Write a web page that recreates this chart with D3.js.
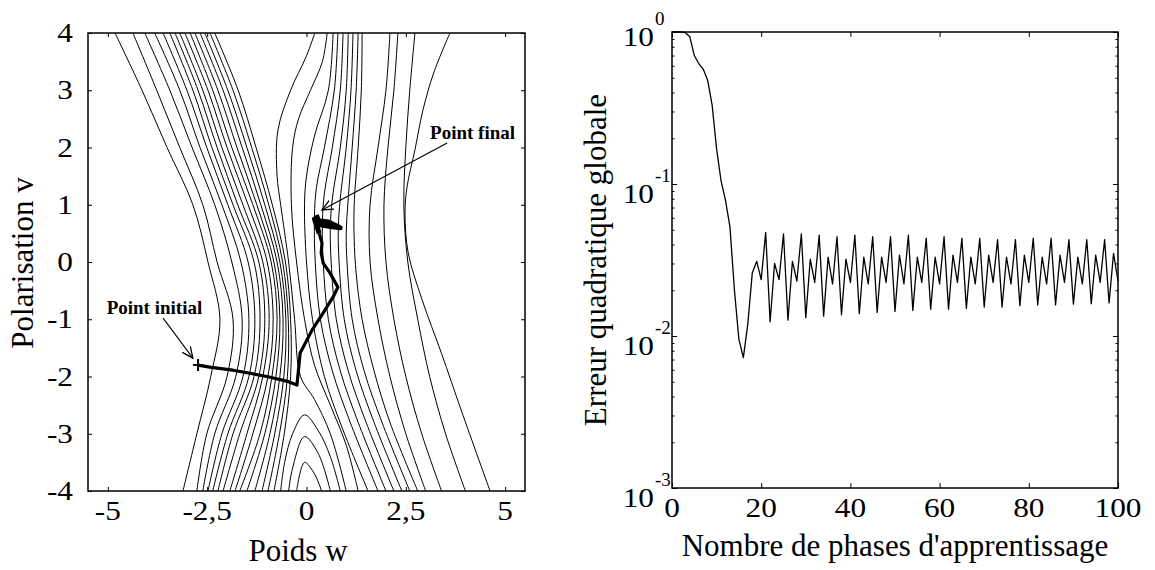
<!DOCTYPE html>
<html><head><meta charset="utf-8">
<script src="https://cdn.jsdelivr.net/npm/d3@7/dist/d3.min.js"></script>
<style>
html,body{margin:0;padding:0;background:#fff;}
svg text{font-family:"Liberation Serif","Times New Roman",Times,serif;fill:#000;}
</style></head><body>
<svg id="chart" width="1155" height="570"></svg>
<script>
// ---------------- LEFT PANEL DATA (error surface, w / v) ----------------
const wTicks = [-5, -2.5, 0, 2.5, 5];
const wTickLabels = ["-5", "-2,5", "0", "2,5", "5"];
const vTicks = [-4, -3, -2, -1, 0, 1, 2, 3, 4];
const vTickLabels = ["-4", "-3", "-2", "-1", "0", "1", "2", "3", "4"];

// iso-error lines, each as [w, v] points
const contourLines = [
  [[-4.82,4],[-4.14,3],[-3.51,2],[-2.86,1],[-2.48,0],[-2.18,-1],[-2.41,-2],[-2.76,-3],[-3.11,-4]],
  [[-4.37,4],[-3.77,3],[-3.19,2],[-2.61,1],[-2.25,0],[-1.85,-1],[-2.00,-2],[-2.51,-3],[-2.76,-4]],
  [[-4.07,4],[-3.44,3],[-2.88,2],[-2.31,1],[-1.88,0],[-1.62,-1],[-1.78,-2],[-2.31,-3],[-2.61,-4]],
  [[-3.82,4],[-3.19,3],[-2.68,2],[-2.13,1],[-1.65,0],[-1.45,-1],[-1.60,-2],[-2.13,-3],[-2.48,-4]],
  [[-3.61,4],[-3.01,3],[-2.51,2],[-1.98,1],[-1.47,0],[-1.30,-1],[-1.45,-2],[-1.98,-3],[-2.36,-4]],
  [[-3.44,4],[-2.86,3],[-2.38,2],[-1.85,1],[-1.32,0],[-1.17,-1],[-1.32,-2],[-1.85,-3],[-2.23,-4]],
  [[-3.31,4],[-2.73,3],[-2.25,2],[-1.73,1],[-1.20,0],[-1.05,-1],[-1.20,-2],[-1.68,-3],[-2.10,-4]],
  [[-3.19,4],[-2.61,3],[-2.13,2],[-1.60,1],[-1.10,0],[-0.94,-1],[-1.10,-2],[-1.50,-3],[-1.93,-4]],
  [[-3.06,4],[-2.48,3],[-2.00,2],[-1.47,1],[-0.99,0],[-0.84,-1],[-0.97,-2],[-1.35,-3],[-1.80,-4]],
  [[-2.93,4],[-2.36,3],[-1.88,2],[-1.35,1],[-0.89,0],[-0.74,-1],[-0.87,-2],[-1.17,-3],[-1.68,-4]],
  [[-2.81,4],[-2.23,3],[-1.75,2],[-1.25,1],[-0.82,0],[-0.67,-1],[-0.77,-2],[-1.05,-3],[-1.50,-4]],
  [[-2.68,4],[-2.10,3],[-1.62,2],[-1.15,1],[-0.74,0],[-0.59,-1],[-0.67,-2],[-0.92,-3],[-1.30,-4]],
  [[-2.56,4],[-1.98,3],[-1.50,2],[-1.05,1],[-0.67,0],[-0.52,-1],[-0.57,-2],[-0.80,-3],[-1.12,-4]],
  [[-2.43,4],[-1.85,3],[-1.38,2],[-0.95,1],[-0.60,0],[-0.46,-1],[-0.48,-2],[-0.68,-3],[-0.97,-4]],
  [[-2.31,4],[-1.72,3],[-1.27,2],[-0.86,1],[-0.53,0],[-0.40,-1],[-0.40,-2],[-0.56,-3],[-0.82,-4]],
  [[-0.65,-4],[-0.55,-3.5],[-0.35,-3.0],[-0.05,-2.67],[0.3,-2.95],[0.6,-3.4],[0.85,-4]],
  [[-0.45,-4],[-0.35,-3.6],[-0.05,-3.05],[0.3,-3.35],[0.6,-4]],
  [[-0.25,-4],[-0.05,-3.5],[0.2,-3.7],[0.38,-4]],
  [[0.21,4],[0.0,3.6],[-0.4,3.0],[-0.72,2.3],[-0.74,1.5],[-0.65,1],[-0.45,0],[-0.3,-1],[-0.15,-2],[0.2,-2.4],[0.6,-3.0],[1.0,-4]],
  [[0.52,4],[0.4,3.5],[0.1,3.0],[-0.2,2.5],[-0.35,2],[-0.38,1],[-0.25,0],[-0.05,-1],[0.2,-1.8],[0.6,-2.5],[1.0,-3.2],[1.3,-4]],
  [[0.67,4],[0.55,3],[0.2,2.2],[0.0,1.5],[-0.05,1],[0.0,0],[0.15,-1],[0.45,-2],[0.9,-2.9],[1.55,-4]],
  [[0.79,4],[0.7,3],[0.45,2],[0.25,1.3],[0.2,0.8],[0.22,0],[0.35,-1],[0.65,-1.9],[1.1,-2.8],[1.8,-4]],
  [[0.92,4],[0.85,3],[0.65,2],[0.45,1.2],[0.4,0.7],[0.42,0],[0.55,-1],[0.85,-1.9],[1.3,-2.8],[2.0,-4]],
  [[1.05,4],[1.0,3],[0.85,2],[0.65,1.1],[0.6,0.6],[0.62,0],[0.75,-1],[1.05,-1.9],[1.5,-2.8],[2.2,-4]],
  [[1.17,4],[1.12,3],[1.0,2],[0.85,1.1],[0.8,0.6],[0.82,0],[0.95,-1],[1.25,-1.9],[1.7,-2.8],[2.4,-4]],
  [[1.30,4],[1.25,3],[1.15,2],[1.05,1.1],[1.0,0.5],[1.02,0],[1.15,-1],[1.45,-1.9],[1.9,-2.8],[2.6,-4]],
  [[1.40,4],[1.38,3],[1.3,2],[1.2,1],[1.2,0.4],[1.25,-0.2],[1.4,-1],[1.7,-1.9],[2.1,-2.8],[2.8,-4]],
  [[2.10,4],[2.0,3],[1.8,2],[1.6,1],[1.6,0],[1.8,-1],[2.1,-2],[2.5,-3],[3.0,-4]],
  [[2.30,4],[2.2,3],[2.05,2],[1.95,1],[2.0,0],[2.2,-1],[2.5,-2],[2.9,-3],[3.4,-4]],
  [[2.73,4],[2.6,3],[2.5,2],[2.45,1],[2.55,0],[2.8,-1],[3.1,-2],[3.5,-3],[4.0,-4]],
  [[3.61,4],[3.2,3.3],[2.93,2.65],[2.73,1.96],[2.53,1.31],[2.48,0.85],[2.56,0.16],[2.91,-0.66],[3.4,-1.6],[3.9,-2.6],[4.62,-4]]
];

// gradient-descent trajectory
const descentW = [-2.73,-2.4,-1.85,-1.0,-0.5,-0.24,-0.21,-0.16,0.14,0.42,0.67,0.79,0.59,0.42,0.37,0.39,0.32];
const descentV = [-1.80,-1.84,-1.89,-2.00,-2.08,-2.15,-1.94,-1.59,-1.19,-0.89,-0.61,-0.44,-0.19,-0.02,0.16,0.33,0.50];
const finalW = [0.32,0.2,0.35,0.6,0.85,0.55,0.3,0.25];
const finalV = [0.50,0.75,0.65,0.62,0.60,0.70,0.72,0.82];

// annotations
const initialLabel = {text: "Point initial", w: -5.03, v: -0.91, fromW: -3.61, fromV: -0.98, toW: -2.86, toV: -1.68};
const finalLabel = {text: "Point final", w: 3.11, v: 2.14, fromW: 3.54, fromV: 2.08, toW: 0.39, toV: 0.91};

// ---------------- RIGHT PANEL DATA ----------------
const phaseTicks = [0, 20, 40, 60, 80, 100];
const errorDecades = [1e-3, 1e-2, 1e-1, 1];
const decadeExponents = ["-3", "-2", "-1", "0"];
// global quadratic error per learning phase (index = phase number 0..100)
const globalError = [
  1.0, 1.0, 1.0, 0.99, 0.93, 0.70, 0.62, 0.57, 0.48, 0.33,
  0.17, 0.105, 0.078, 0.052, 0.020, 0.0095, 0.0072, 0.012, 0.026, 0.031,
  0.0235, 0.048, 0.0124, 0.030, 0.0235, 0.047, 0.0127, 0.031, 0.023, 0.047,
  0.0132, 0.032, 0.0225, 0.046, 0.0135, 0.033, 0.022, 0.045, 0.0138, 0.032,
  0.0225, 0.046, 0.014, 0.033, 0.022, 0.045, 0.0143, 0.033, 0.0225, 0.045,
  0.0145, 0.034, 0.022, 0.046, 0.0147, 0.033, 0.0225, 0.044, 0.015, 0.033,
  0.022, 0.045, 0.015, 0.034, 0.0225, 0.044, 0.0152, 0.033, 0.022, 0.044,
  0.0155, 0.034, 0.0225, 0.043, 0.0155, 0.033, 0.022, 0.043, 0.0158, 0.034,
  0.0225, 0.044, 0.016, 0.033, 0.022, 0.044, 0.016, 0.034, 0.0225, 0.043,
  0.0162, 0.033, 0.022, 0.043, 0.0163, 0.034, 0.0225, 0.043, 0.0165, 0.035,
  0.023
];

// ---------------- DRAWING ----------------
const svg = d3.select("#chart");
const FONT_TICK = 27, TICK_STRETCH = 1.16, FONT_TITLE = 31;

// tick label helper (the scanned labels are slightly wider than tall)
function tickText(parent, x, y, str, anchor) {
  parent.append("text")
    .attr("transform", `translate(${x},${y}) scale(${TICK_STRETCH},1)`)
    .attr("text-anchor", anchor).attr("font-size", FONT_TICK).text(str);
}

// ===== left panel =====
const xL = d3.scaleLinear().domain([-5.5, 5.5]).range([88, 525]);
const yL = d3.scaleLinear().domain([-4, 4]).range([491, 33]);

const left = svg.append("g");
left.append("clipPath").attr("id", "clipL").append("rect")
  .attr("x", 88).attr("y", 33).attr("width", 437).attr("height", 458);

const contourLine = d3.line().x(d => xL(d[0])).y(d => yL(d[1])).curve(d3.curveCatmullRom.alpha(0.5));
left.append("g").attr("clip-path", "url(#clipL)")
  .selectAll("path").data(contourLines).join("path")
  .attr("d", contourLine).attr("fill", "none").attr("stroke", "#000").attr("stroke-width", 1);

// descent trajectory
const traj = descentW.map((w, i) => [w, descentV[i]]);
left.append("path").attr("d", d3.line().x(d => xL(d[0])).y(d => yL(d[1]))(traj))
  .attr("fill", "none").attr("stroke", "#000").attr("stroke-width", 3.2).attr("stroke-linejoin", "round");
const blob = finalW.map((w, i) => [w, finalV[i]]);
left.append("path").attr("d", d3.line().x(d => xL(d[0])).y(d => yL(d[1]))(blob))
  .attr("fill", "none").attr("stroke", "#000").attr("stroke-width", 5).attr("stroke-linejoin", "round");
// start marker
const sx = xL(descentW[0]), sy = yL(descentV[0]);
left.append("path").attr("d", `M${sx-5},${sy}L${sx+5},${sy}M${sx},${sy-6}L${sx},${sy+6}`)
  .attr("stroke", "#000").attr("stroke-width", 2);

// arrows
svg.append("defs").append("marker").attr("id", "arrowOpen")
  .attr("viewBox", "0 0 12 12").attr("refX", 11).attr("refY", 6)
  .attr("markerWidth", 12).attr("markerHeight", 12).attr("markerUnits", "userSpaceOnUse")
  .attr("orient", "auto")
  .append("path").attr("d", "M0,1L11,6L0,11").attr("fill", "none").attr("stroke", "#000").attr("stroke-width", 1.3);

[initialLabel, finalLabel].forEach(a => {
  left.append("line").attr("x1", xL(a.fromW)).attr("y1", yL(a.fromV))
    .attr("x2", xL(a.toW)).attr("y2", yL(a.toV))
    .attr("stroke", "#000").attr("stroke-width", 1.1).attr("marker-end", "url(#arrowOpen)");
  left.append("text").attr("x", xL(a.w)).attr("y", yL(a.v))
    .attr("font-size", 19).attr("font-weight", 600).text(a.text);
});

// frame & ticks
left.append("rect").attr("x", 88).attr("y", 33).attr("width", 437).attr("height", 458)
  .attr("fill", "none").attr("stroke", "#000").attr("stroke-width", 1.5);
const tickStyle = g => { g.select(".domain").remove(); g.selectAll("line").attr("stroke", "#000"); };
left.append("g").attr("transform", "translate(0,491)")
  .call(d3.axisBottom(xL).tickValues(wTicks).tickSizeInner(-4).tickSizeOuter(0).tickFormat("")).call(tickStyle);
left.append("g").attr("transform", "translate(0,33)")
  .call(d3.axisTop(xL).tickValues(wTicks).tickSizeInner(-4).tickSizeOuter(0).tickFormat("")).call(tickStyle);
left.append("g").attr("transform", "translate(88,0)")
  .call(d3.axisLeft(yL).tickValues(vTicks).tickSizeInner(-4).tickSizeOuter(0).tickFormat("")).call(tickStyle);
left.append("g").attr("transform", "translate(525,0)")
  .call(d3.axisRight(yL).tickValues(vTicks).tickSizeInner(-4).tickSizeOuter(0).tickFormat("")).call(tickStyle);

wTicks.forEach((d, i) => tickText(left, xL(d), 520, wTickLabels[i], "middle"));
vTicks.forEach((d, i) => tickText(left, 73, yL(d) + 9, vTickLabels[i], "end"));

left.append("text").attr("x", 298).attr("y", 561).attr("text-anchor", "middle")
  .attr("font-size", FONT_TITLE).text("Poids w");
left.append("text").attr("transform", "translate(33,263) rotate(-90)").attr("text-anchor", "middle")
  .attr("font-size", FONT_TITLE).text("Polarisation v");

// ===== right panel =====
const xR = d3.scaleLinear().domain([0, 100]).range([672, 1118]);
const yR = d3.scaleLog().domain([1e-3, 1]).range([488, 32]);
const right = svg.append("g");

right.append("path")
  .attr("d", d3.line().x((d, i) => xR(i)).y(d => yR(d))(globalError))
  .attr("fill", "none").attr("stroke", "#000").attr("stroke-width", 1.3).attr("stroke-linejoin", "round");

right.append("rect").attr("x", 672).attr("y", 32).attr("width", 446).attr("height", 456)
  .attr("fill", "none").attr("stroke", "#000").attr("stroke-width", 1.5);

right.append("g").attr("transform", "translate(0,488)")
  .call(d3.axisBottom(xR).tickValues(phaseTicks).tickSizeInner(-5).tickSizeOuter(0).tickFormat("")).call(tickStyle);
right.append("g").attr("transform", "translate(0,32)")
  .call(d3.axisTop(xR).tickValues(phaseTicks).tickSizeInner(-5).tickSizeOuter(0).tickFormat("")).call(tickStyle);
right.append("g").attr("transform", "translate(672,0)")
  .call(d3.axisLeft(yR).tickValues(errorDecades).tickSizeInner(-5).tickSizeOuter(0).tickFormat("")).call(tickStyle);
right.append("g").attr("transform", "translate(1118,0)")
  .call(d3.axisRight(yR).tickValues(errorDecades).tickSizeInner(-5).tickSizeOuter(0).tickFormat("")).call(tickStyle);
const minorTicks = [];
[1e-3, 1e-2, 1e-1].forEach(b => [2,3,4,5,6,7,8,9].forEach(m => minorTicks.push(b * m)));
right.append("g").attr("transform", "translate(672,0)")
  .call(d3.axisLeft(yR).tickValues(minorTicks).tickSizeInner(-2.5).tickSizeOuter(0).tickFormat("")).call(tickStyle);
right.append("g").attr("transform", "translate(1118,0)")
  .call(d3.axisRight(yR).tickValues(minorTicks).tickSizeInner(-2.5).tickSizeOuter(0).tickFormat("")).call(tickStyle);

phaseTicks.forEach(d => tickText(right, xR(d), 517, String(d), "middle"));

errorDecades.forEach((d, i) => {
  const base = yR(d) + (d === 1 ? 14 : 19);
  tickText(right, 654, base, "10", "end");
  right.append("text").attr("x", 655).attr("y", base - 21)
    .attr("text-anchor", "start").attr("font-size", 19).text(decadeExponents[i]);
});

right.append("text").attr("x", 895).attr("y", 556).attr("text-anchor", "middle")
  .attr("font-size", FONT_TITLE).text("Nombre de phases d'apprentissage");
right.append("text").attr("transform", "translate(606,260) rotate(-90)").attr("text-anchor", "middle")
  .attr("font-size", FONT_TITLE).text("Erreur quadratique globale");
</script></body></html>
